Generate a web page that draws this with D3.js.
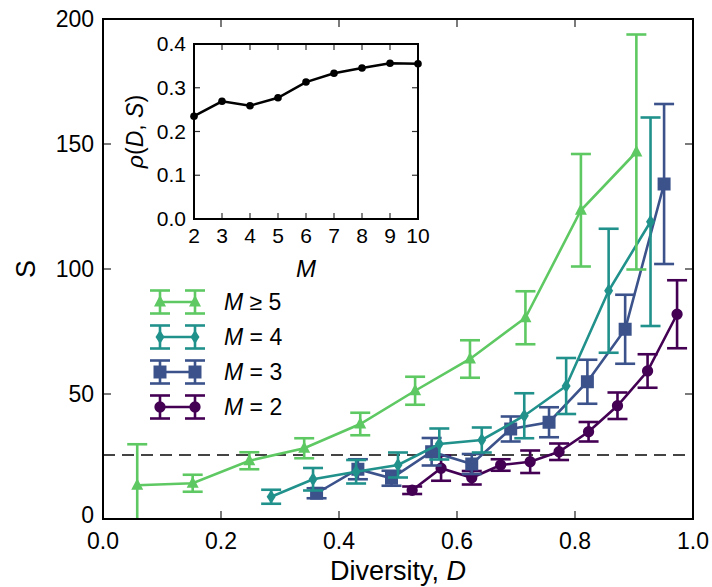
<!DOCTYPE html>
<html><head><meta charset="utf-8">
<script src="https://cdn.jsdelivr.net/npm/d3@7"></script>
<style>body{margin:0;background:#fff}text{font-family:"Liberation Sans",Arial,Helvetica,sans-serif;fill:#000}</style>
</head><body><svg id="c" width="712" height="587"></svg>
<script>
// ---- data ----
const seriesNames = ["M = 2","M = 3","M = 4","M ≥ 5"];
const D2 = [0.524,0.573,0.625,0.674,0.724,0.773,0.823,0.872,0.923,0.973];
const S2 = [11.5,20.3,16.5,21.6,22.9,26.9,34.9,45.3,59.2,81.9];
const E2 = [1.5,5,2.7,2.3,4.5,3.3,3.9,5.3,6.7,13.6];
const D3 = [0.362,0.432,0.489,0.557,0.625,0.691,0.756,0.821,0.885,0.951];
const S3 = [10.3,19.9,16.3,26.9,22,36,38.7,54.9,75.9,134];
const E3 = [2,4,3,5.5,4,5,6,8.8,13.8,32];
const D4 = [0.285,0.356,0.429,0.500,0.570,0.642,0.714,0.785,0.857,0.928];
const S4 = [8.9,15.9,18.9,21.6,30,31.6,41.3,53.2,91.3,118.9];
const E4 = [2.8,4.5,4.7,5,6.2,5,9,11.2,24.8,41.7];
const D5 = [0.058,0.152,0.248,0.341,0.436,0.529,0.622,0.716,0.810,0.904];
const S5 = [13.5,14.3,23.3,28.3,38,51.3,64,80.5,123.5,146.8];
const E5 = [16.4,3.4,3.4,4,4.5,5.6,7.5,10.6,22.5,47];
const baseline = 25.6;
const xTicks = [0,0.2,0.4,0.6,0.8,1.0];
const yTicks = [0,50,100,150,200];
const insetM = [2,3,4,5,6,7,8,9,10];
const insetRho = [0.235,0.269,0.259,0.277,0.313,0.333,0.345,0.356,0.355];
const insetYTicks = [0,0.1,0.2,0.3,0.4];

const colors = ["#440154","#3b528b","#21918c","#5ec962"];
const shapes = ["circle","square","diamond","triangle"];
const series = [[D2,S2,E2],[D3,S3,E3],[D4,S4,E4],[D5,S5,E5]].map((a,i)=>({
  name:seriesNames[i], color:colors[i], shape:shapes[i],
  pts:a[0].map((d,j)=>({d:d,s:a[1][j],e:a[2][j]}))}));

const svg = d3.select("#c");
const L=103,R=693,T=19,B=519;
const x = d3.scaleLinear().domain([0,1]).range([L,R]);
const y = d3.scaleLinear().domain([0,200]).range([B,T]);

svg.append("defs").append("clipPath").attr("id","clip")
  .append("rect").attr("x",L).attr("y",T).attr("width",R-L).attr("height",B-T);

function markerPath(shape){
  if(shape==="circle") return d3.symbol(d3.symbolCircle, 100)();
  if(shape==="square") return "M-6.5,-6.5H6.5V6.5H-6.5Z";
  if(shape==="diamond") return "M0,-7L4.5,0L0,7L-4.5,0Z";
  return "M0,-7L6,4.5L-6,4.5Z";
}

// dashed baseline
svg.append("line").attr("x1",L).attr("x2",R).attr("y1",y(baseline)).attr("y2",y(baseline))
  .attr("stroke","#444").attr("stroke-width",2).attr("stroke-dasharray","12,7");

const plot = svg.append("g").attr("clip-path","url(#clip)");
const capW = 10;
series.forEach(s=>{
  const g = plot.append("g");
  g.append("path").datum(s.pts)
    .attr("d", d3.line().x(p=>x(p.d)).y(p=>y(p.s)))
    .attr("fill","none").attr("stroke",s.color).attr("stroke-width",2.6);
  const eb = g.selectAll(".eb").data(s.pts).enter().append("g");
  eb.append("line").attr("x1",p=>x(p.d)).attr("x2",p=>x(p.d))
    .attr("y1",p=>y(p.s-p.e)).attr("y2",p=>y(p.s+p.e))
    .attr("stroke",s.color).attr("stroke-width",2.6);
  [1,-1].forEach(sg=>{
    eb.append("line").attr("x1",p=>x(p.d)-capW).attr("x2",p=>x(p.d)+capW)
      .attr("y1",p=>y(p.s+sg*p.e)).attr("y2",p=>y(p.s+sg*p.e))
      .attr("stroke",s.color).attr("stroke-width",2.6);
  });
  g.selectAll(".mk").data(s.pts).enter().append("path")
    .attr("d",markerPath(s.shape))
    .attr("transform",p=>`translate(${x(p.d)},${y(p.s)})`)
    .attr("fill",s.color);
});

// axes
function frame(g, l, r, t, b){
  g.append("rect").attr("x",l).attr("y",t).attr("width",r-l).attr("height",b-t)
    .attr("fill","none").attr("stroke","#000").attr("stroke-width",2);
}
const ax = svg.append("g");
const tl = 8;
xTicks.forEach(v=>{
  if(v>0 && v<1){
    ax.append("line").attr("x1",x(v)).attr("x2",x(v)).attr("y1",B).attr("y2",B-tl).attr("stroke","#333").attr("stroke-width",1.3);
    ax.append("line").attr("x1",x(v)).attr("x2",x(v)).attr("y1",T).attr("y2",T+tl).attr("stroke","#333").attr("stroke-width",1.3);
  }
  ax.append("text").attr("x",x(v)).attr("y",B+30).attr("text-anchor","middle")
    .attr("font-size",23).text(d3.format(".1f")(v));
});
yTicks.forEach(v=>{
  if(v>0 && v<200){
    ax.append("line").attr("x1",L).attr("x2",L+tl).attr("y1",y(v)).attr("y2",y(v)).attr("stroke","#333").attr("stroke-width",1.3);
    ax.append("line").attr("x1",R).attr("x2",R-tl).attr("y1",y(v)).attr("y2",y(v)).attr("stroke","#333").attr("stroke-width",1.3);
  }
  ax.append("text").attr("x",L-9).attr("y",y(v)+(v===0?4:8)).attr("text-anchor","end")
    .attr("font-size",23).text(v);
});
frame(ax,L,R,T,B);
const xl = ax.append("text").attr("x",(L+R)/2).attr("y",580).attr("text-anchor","middle").attr("font-size",27);
xl.append("tspan").text("Diversity, ");
xl.append("tspan").attr("font-style","italic").text("D");
ax.append("text").attr("transform",`translate(35,${(T+B)/2}) rotate(-90)`).attr("text-anchor","middle")
  .attr("font-size",27).text("S");

// legend
const legOrder = [3,2,1,0];
const legY = [302,337,372,407];
legOrder.forEach((si,k)=>{
  const s = series[si], cy = legY[k];
  const lg = svg.append("g");
  lg.append("line").attr("x1",160).attr("x2",195).attr("y1",cy).attr("y2",cy).attr("stroke",s.color).attr("stroke-width",2.6);
  [160,195].forEach(cx=>{
    lg.append("line").attr("x1",cx).attr("x2",cx).attr("y1",cy-11.5).attr("y2",cy+11.5).attr("stroke",s.color).attr("stroke-width",2.6);
    [-11.5,11.5].forEach(o=>lg.append("line").attr("x1",cx-10).attr("x2",cx+10).attr("y1",cy+o).attr("y2",cy+o).attr("stroke",s.color).attr("stroke-width",2.6));
    lg.append("path").attr("d",markerPath(s.shape)).attr("transform",`translate(${cx},${cy})`).attr("fill",s.color);
  });
  const t = lg.append("text").attr("x",224).attr("y",cy+8).attr("font-size",23);
  t.append("tspan").attr("font-style","italic").text("M");
  t.append("tspan").text(s.name.slice(1));
});

// inset
const iL=194,iR=418,iT=44,iB=219;
const ix = d3.scaleLinear().domain([2,10]).range([iL,iR]);
const iy = d3.scaleLinear().domain([0,0.4]).range([iB,iT]);
const ig = svg.append("g");
ig.append("rect").attr("x",iL).attr("y",iT).attr("width",iR-iL).attr("height",iB-iT).attr("fill","#fff");
const itl=6;
insetM.forEach(v=>{
  if(v>2 && v<10){
    ig.append("line").attr("x1",ix(v)).attr("x2",ix(v)).attr("y1",iB).attr("y2",iB-itl).attr("stroke","#333").attr("stroke-width",1.2);
    ig.append("line").attr("x1",ix(v)).attr("x2",ix(v)).attr("y1",iT).attr("y2",iT+itl).attr("stroke","#333").attr("stroke-width",1.2);
  }
  ig.append("text").attr("x",ix(v)).attr("y",iB+24).attr("text-anchor","middle").attr("font-size",21).text(v);
});
insetYTicks.forEach(v=>{
  if(v>0 && v<0.4){
    ig.append("line").attr("x1",iL).attr("x2",iL+itl).attr("y1",iy(v)).attr("y2",iy(v)).attr("stroke","#333").attr("stroke-width",1.2);
    ig.append("line").attr("x1",iR).attr("x2",iR-itl).attr("y1",iy(v)).attr("y2",iy(v)).attr("stroke","#333").attr("stroke-width",1.2);
  }
  ig.append("text").attr("x",iL-8).attr("y",iy(v)+7).attr("text-anchor","end").attr("font-size",21).text(d3.format(".1f")(v));
});
const ipts = insetM.map((m,i)=>({m:m,r:insetRho[i]}));
ig.append("path").datum(ipts).attr("d",d3.line().x(p=>ix(p.m)).y(p=>iy(p.r)))
  .attr("fill","none").attr("stroke","#000").attr("stroke-width",2.5);
ig.selectAll(".dot").data(ipts).enter().append("circle").attr("cx",p=>ix(p.m)).attr("cy",p=>iy(p.r)).attr("r",3.8).attr("fill","#000");
frame(ig,iL,iR,iT,iB);
ig.append("text").attr("x",(iL+iR)/2).attr("y",277).attr("text-anchor","middle").attr("font-size",24).attr("font-style","italic").text("M");
const il = ig.append("text").attr("transform",`translate(143,${(iT+iB)/2}) rotate(-90)`).attr("text-anchor","middle").attr("font-size",23);
il.append("tspan").attr("font-style","italic").text("ρ");
il.append("tspan").text("(");
il.append("tspan").attr("font-style","italic").text("D");
il.append("tspan").text(", ");
il.append("tspan").attr("font-style","italic").text("S");
il.append("tspan").text(")");
</script></body></html>
